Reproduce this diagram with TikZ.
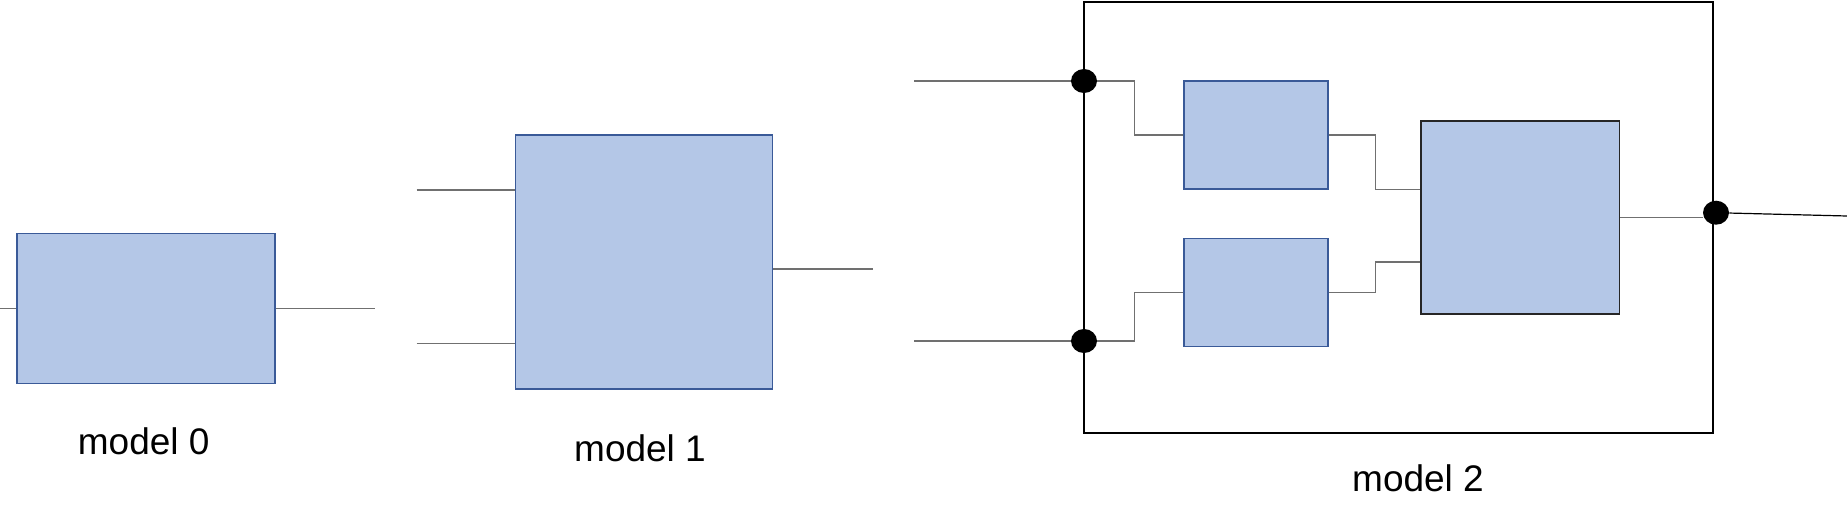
\documentclass[tikz,border=0pt]{standalone}
\usepackage{fontspec}
\setmainfont{Liberation Sans}
\usepackage{tikz}
\usetikzlibrary{calc, positioning, shapes.geometric}

\definecolor{blockfill}{HTML}{B4C7E7}
\definecolor{blockline}{HTML}{3A5A98}
\definecolor{wiregray}{HTML}{707070}

\begin{document}
\begin{tikzpicture}[x=0.5pt, y=-0.5pt,
  block/.style={draw=blockline, fill=blockfill, line width=0.75pt, inner sep=0pt},
  wire/.style={draw=wiregray, line width=0.6pt},
  joint/.style={ellipse, fill=black, inner sep=0pt, minimum width=13pt, minimum height=12pt},
  caption/.style={anchor=base, font=\fontsize{18.5}{22}\selectfont}]
  \useasboundingbox (0,0) rectangle (1847,525);

  % model 0
  \node[block, minimum width=129pt, minimum height=75pt] (m0) at (145.8,308.5) {};
  \coordinate (in0) at (0,308.5);
  \coordinate (out0) at (375,308.5);
  \draw[wire] (in0) -- (m0.west);
  \draw[wire] (m0.east) -- (out0);
  \node[caption] (t0) at (143.7,454.7) {model 0};

  % model 1
  \node[block, minimum width=128.5pt, minimum height=127pt] (m1) at (644.2,262.2) {};
  \coordinate (in1a) at (416.7,190);
  \coordinate (in1b) at (416.7,343.7);
  \coordinate (out1) at (872.7,269);
  \draw[wire] (in1a) -- (in1a -| m1.west);
  \draw[wire] (in1b) -- (in1b -| m1.west);
  \draw[wire] (out1 -| m1.east) -- (out1);
  \node[caption] (t1) at (640,461.7) {model 1};

  % model 2
  \node[draw=black, line width=1pt, minimum width=314.6pt, minimum height=215.5pt, inner sep=0pt] (m2) at (1398.7,217.8) {};
  \node[block, minimum width=72pt, minimum height=54pt] (a) at (1256,135) {};
  \node[block, minimum width=72pt, minimum height=54pt] (b) at (1256,292.5) {};
  \node[block, draw=black!85, minimum width=99.3pt, minimum height=96.7pt] (c) at (1520.3,217.5) {};
  \node[joint] (d1) at (1084,81) {};
  \node[joint] (d2) at (1084,341) {};
  \node[joint] (d3) at (1716,212.7) {};
  \coordinate (in2a) at (914,81);
  \coordinate (in2b) at (914,341);
  \coordinate (out2) at (1847,216);
  \draw[wire] (in2a) -- (d1);
  \draw[wire] (in2b) -- (d2);
  \draw[wire] (d1) -- ++(50.7,0) |- (a.west);
  \draw[wire] (d2) -- ++(50.7,0) |- (b.west);
  \draw[wire] (a.east) -- ++(47,0) |- ($(c.west)+(0,-28.3)$);
  \draw[wire] (b.east) -- ++(47,0) |- ($(c.west)+(0,44.4)$);
  \draw[wire] (c.east) -- (c.east -| d3.west);
  \draw[line width=0.6pt] (d3) -- (out2);
  \node[caption] (t2) at (1418,491) {model 2};
\end{tikzpicture}
\end{document}
